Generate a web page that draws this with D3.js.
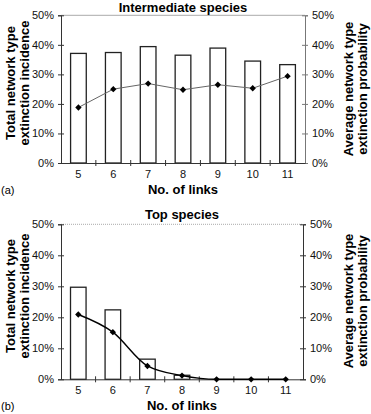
<!DOCTYPE html>
<html><head><meta charset="utf-8">
<script src="https://cdn.jsdelivr.net/npm/d3@7"></script>
<style>
body{margin:0;background:#fff;}
text{font-family:"Liberation Sans",Arial,sans-serif;}
</style></head>
<body>
<svg id="c" width="371" height="414"></svg>
<script>
const links = ["5","6","7","8","9","10","11"];
const yTicks = [0,0.1,0.2,0.3,0.4,0.5];
const interBars = [0.371,0.374,0.394,0.365,0.389,0.345,0.333];
const interLine = [0.188,0.250,0.269,0.248,0.265,0.253,0.294];
const topBars = [0.297,0.224,0.065,0.013,0,0,0];
const topLine = [0.209,0.152,0.043,0.012,0,0,0];

const svg = d3.select("#c");
const fmt = d3.format(".0%");

function panel(o){
  const g = svg.append("g");
  const x = d3.scaleBand().domain(links).range([o.x0,o.x1]);
  const y = d3.scaleLinear().domain([0,0.5]).range([o.y0,o.y1]);
  g.append("line").attr("x1",o.x0).attr("x2",o.x1).attr("y1",y(0.5)).attr("y2",y(0.5))
    .attr("stroke","#aaa").attr("stroke-width",1).attr("stroke-dasharray",o.dash?"1,1":null);
  const bw = x.bandwidth()*0.45;
  g.selectAll("rect").data(o.bars).join("rect")
    .attr("x",(d,i)=>x(links[i])+x.bandwidth()/2-bw/2)
    .attr("y",d=>y(d)).attr("width",bw).attr("height",d=>y(0)-y(d))
    .attr("fill","#fff").attr("stroke","#222").attr("stroke-width",1.3);
  const la = g.append("g").attr("transform",`translate(${o.x0},0)`)
    .call(d3.axisLeft(y).tickValues(yTicks).tickFormat(fmt).tickSize(3).tickPadding(4));
  la.select(".domain").attr("stroke","#333");
  la.selectAll(".tick line").attr("x2",3).attr("x1",-3).attr("stroke","#333");
  la.selectAll("text").attr("font-size",11).attr("fill","#111");
  const ra = g.append("g").attr("transform",`translate(${o.x1},0)`)
    .call(d3.axisRight(y).tickValues(yTicks).tickFormat(fmt).tickSize(3).tickPadding(4));
  ra.select(".domain").attr("stroke",o.rcol);
  ra.selectAll(".tick line").attr("x1",-3).attr("x2",3).attr("stroke",o.rcol);
  ra.selectAll("text").attr("font-size",11).attr("fill","#111");
  const xa = g.append("g").attr("transform",`translate(0,${o.y0})`)
    .call(d3.axisBottom(x).tickSize(0).tickPadding(7));
  xa.select(".domain").attr("stroke","#333");
  xa.selectAll("text").attr("font-size",11).attr("fill","#111");
  g.selectAll(".bt").data(links.slice(1)).join("line").attr("class","bt")
    .attr("x1",d=>x(d)).attr("x2",d=>x(d)).attr("y1",o.y0-3).attr("y2",o.y0+3).attr("stroke","#333");
  const line = d3.line().x((d,i)=>x(links[i])+x.bandwidth()/2).y(d=>y(d)).curve(o.curve);
  g.append("path").datum(o.line).attr("d",line).attr("fill","none")
    .attr("stroke",o.lcol).attr("stroke-width",o.lw);
  const sym = d3.symbol().type(d3.symbolSquare).size(20);
  g.selectAll(".m").data(o.line).join("path").attr("class","m").attr("d",sym)
    .attr("transform",(d,i)=>`translate(${x(links[i])+x.bandwidth()/2},${y(d)}) rotate(45)`).attr("fill","#000");
  g.append("text").attr("x",(o.x0+o.x1)/2).attr("y",o.ty).attr("text-anchor","middle")
    .attr("font-size",13).attr("font-weight","bold").text(o.title);
  g.append("text").attr("x",(o.x0+o.x1)/2).attr("y",o.y0+31).attr("text-anchor","middle")
    .attr("font-size",13).attr("font-weight","bold").text("No. of links");
  g.append("text").attr("x",1).attr("y",o.y0+31).attr("font-size",11).text(o.lab);
  const lt = g.append("text").attr("transform",`translate(0,${o.lc}) rotate(-90)`)
    .attr("text-anchor","middle").attr("font-size",13).attr("font-weight","bold");
  lt.append("tspan").attr("x",0).attr("y",15).text("Total network type");
  lt.append("tspan").attr("x",0).attr("y",29).text("extinction incidence");
  const rt = g.append("text").attr("transform",`translate(0,${o.rc}) rotate(-90)`)
    .attr("text-anchor","middle").attr("font-size",13).attr("font-weight","bold");
  rt.append("tspan").attr("x",0).attr("y",353).text("Average network type");
  rt.append("tspan").attr("x",0).attr("y",367).text("extinction probability");
}

panel({x0:61,x1:305,y0:163,y1:15.3,bars:interBars,line:interLine,title:"Intermediate species",
  ty:12,lab:"(a)",lc:83,rc:89,curve:d3.curveLinear,lcol:"#666",lw:1,rcol:"#777",dash:false});
panel({x0:61,x1:303,y0:379.3,y1:224.3,bars:topBars,line:topLine,title:"Top species",
  ty:219,lab:"(b)",lc:296,rc:301,curve:d3.curveMonotoneX,lcol:"#000",lw:1.4,rcol:"#333",dash:true});
</script>
</body></html>
